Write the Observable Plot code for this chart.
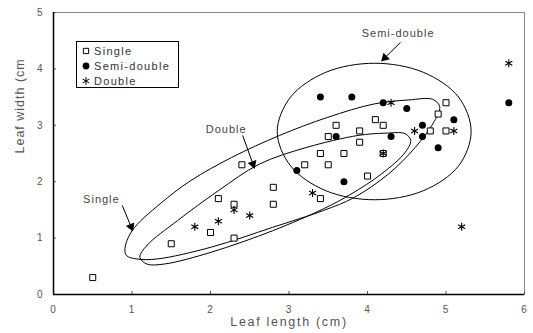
<!DOCTYPE html>
<html>
<head>
<meta charset="utf-8">
<script src="https://cdn.jsdelivr.net/npm/d3@7"></script>
<script src="https://cdn.jsdelivr.net/npm/@observablehq/plot@0.6"></script>
<style>
  html, body { margin: 0; padding: 0; background: #fff; }
  #wrap { position: relative; width: 533px; height: 333px; }
  #wrap svg text { letter-spacing: 1px; }
  #wrap svg .title text, #wrap svg text.title { letter-spacing: 1.7px; }
  .legend { position: absolute; left: 76px; top: 41px; width: 101px; height: 44px;
    border: 1px solid #000; background: #fff; font: 11px Arial, "Liberation Sans", sans-serif;
    color: #333; letter-spacing: 1.3px; padding-top: 1px; box-sizing: content-box; }
  .legend .row { height: 15px; display: flex; align-items: center; padding-left: 4px; }
  .legend svg { width: 10px; height: 10px; margin-right: 3px; overflow: visible; }
</style>
</head>
<body>
<div id="wrap"></div>
<script>
// ---- data ----
const seriesNames = ["Single", "Semi-double", "Double"];
const singleX = [0.5,1.5,2.0,2.1,2.3,2.3,2.4,2.8,2.8,3.2,3.4,3.4,3.5,3.5,3.6,3.7,3.9,3.9,4.0,4.1,4.2,4.2,4.8,4.9,5.0,5.0];
const singleY = [0.3,0.9,1.1,1.7,1.6,1.0,2.3,1.9,1.6,2.3,2.5,1.7,2.8,2.3,3.0,2.5,2.9,2.7,2.1,3.1,3.0,2.5,2.9,3.2,3.4,2.9];
const semiX = [3.4,3.8,4.2,4.5,4.7,4.7,4.9,5.1,5.8,3.1,3.6,3.7,4.3];
const semiY = [3.5,3.5,3.4,3.3,3.0,2.8,2.6,3.1,3.4,2.2,2.8,2.0,2.8];
const doubleX = [1.8,2.1,2.3,2.5,3.3,4.3,4.2,4.6,5.1,5.2,5.8];
const doubleY = [1.2,1.3,1.5,1.4,1.8,3.4,2.5,2.9,2.9,1.2,4.1];

// group outlines
const semiOutlineX = [5.32,5.16,4.71,4.09,3.47,3.02,2.85,3.02,3.47,4.09,4.71,5.16];
const semiOutlineY = [2.89,3.50,3.94,4.10,3.94,3.50,2.89,2.28,1.84,1.68,1.84,2.28];
const singleOutlineX = [0.91,1.00,1.36,1.75,2.27,2.88,3.49,4.09,4.53,4.83,4.92,4.83,4.61,4.27,3.83,3.44,2.79,2.01,1.32,1.06,0.93];
const singleOutlineY = [0.81,1.13,1.61,2.02,2.43,2.82,3.14,3.38,3.45,3.46,3.33,3.02,2.61,2.14,1.72,1.49,1.19,0.84,0.63,0.63,0.69];
const doubleOutlineX = [1.10,1.19,1.58,2.10,2.62,3.23,3.88,4.22,4.48,4.55,4.48,4.18,3.79,3.44,2.79,2.01,1.41,1.19];
const doubleOutlineY = [0.66,0.87,1.31,1.84,2.31,2.61,2.82,2.86,2.85,2.73,2.52,2.14,1.78,1.52,1.13,0.75,0.54,0.54];

// annotations
const annoLabels = ["Semi-double", "Double", "Single"];
const annoLabelX = [4.39, 2.20, 0.61];
const annoLabelY = [4.63, 2.93, 1.69];
const arrowFromX = [4.42, 2.41, 0.875];
const arrowFromY = [4.47, 2.82, 1.58];
const arrowToX = [4.18, 2.56, 1.01];
const arrowToY = [4.14, 2.24, 1.13];

const xTicks = [0,1,2,3,4,5,6];
const yTicks = [0,1,2,3,4,5];

// ---- build tables ----
const zip = (xs, ys) => xs.map((x, i) => ({x, y: ys[i]}));
const single = zip(singleX, singleY);
const semi = zip(semiX, semiY);
const dbl = zip(doubleX, doubleY);
const semiOutline = zip(semiOutlineX, semiOutlineY);
const singleOutline = zip(singleOutlineX, singleOutlineY);
const doubleOutline = zip(doubleOutlineX, doubleOutlineY);
const annos = annoLabels.map((t, i) => ({t, lx: annoLabelX[i], ly: annoLabelY[i],
  fx: arrowFromX[i], fy: arrowFromY[i], tx: arrowToX[i], ty: arrowToY[i]}));

const layout = {
  width: 533, height: 333, marginLeft: 53, marginRight: 9, marginTop: 12, marginBottom: 39,
  x: {domain: [0, 6]}, y: {domain: [0, 5]},
  style: {fontFamily: "Arial, 'Liberation Sans', sans-serif", background: "#fff"}
};

// temp plot to get the scales for arrow heads
const tmp = Plot.plot({...layout, marks: [Plot.frame()]});
const sx = tmp.scale("x"), sy = tmp.scale("y");
const heads = annos.map(a => {
  const x0 = sx.apply(a.fx), y0 = sy.apply(a.fy), x1 = sx.apply(a.tx), y1 = sy.apply(a.ty);
  const dx = x1 - x0, dy = y1 - y0, L = Math.hypot(dx, dy);
  const ux = dx / L, uy = dy / L;
  const cx = x1 - ux * 4.5, cy = y1 - uy * 4.5;
  return {x0: a.fx, y0: a.fy, x: sx.invert(cx), y: sy.invert(cy),
          rot: Math.atan2(ux, -uy) * 180 / Math.PI};
});

const lineOpts = {x: "x", y: "y", curve: "catmull-rom-closed", stroke: "#000", strokeWidth: 1};

const plot = Plot.plot({
  ...layout,
  marks: [
    Plot.frame({stroke: "#888"}),
    Plot.axisX(xTicks, {tickSize: -3, tickPadding: 14, fontSize: 10, color: "#555", label: null, tickFormat: "d"}),
    Plot.axisY(yTicks, {tickSize: -3, tickPadding: 13, fontSize: 10, color: "#555", label: null, tickFormat: "d"}),
    Plot.ruleX([0], {stroke: "#000", strokeWidth: 1.5}),
    Plot.ruleY([0], {stroke: "#000", strokeWidth: 1.5}),
    Plot.text(["Leaf length (cm)"], {frameAnchor: "bottom", dy: 31, fontSize: 12.5, fill: "#555", fontWeight: "normal", className: "title"}),
    Plot.text(["Leaf width (cm"], {frameAnchor: "left", dx: -34, rotate: -90, fontSize: 12.5, fill: "#555", fontWeight: "normal"}),
    Plot.line(semiOutline, lineOpts),
    Plot.line(singleOutline, lineOpts),
    Plot.line(doubleOutline, lineOpts),
    Plot.dot(single, {x: "x", y: "y", symbol: "square", r: 3.4, fill: "#fff", stroke: "#000", strokeWidth: 1}),
    Plot.dot(semi, {x: "x", y: "y", symbol: "circle", r: 3.5, fill: "#000", stroke: "none"}),
    Plot.dot(dbl, {x: "x", y: "y", symbol: "asterisk", r: 3.8, stroke: "#000", strokeWidth: 1.1}),
    Plot.text(annos, {x: "lx", y: "ly", text: "t", fontSize: 11, fill: "#444"}),
    Plot.link(heads, {x1: "x0", y1: "y0", x2: "x", y2: "y", stroke: "#000", strokeWidth: 1}),
    Plot.dot(heads, {x: "x", y: "y", symbol: "triangle", r: 3.4, fill: "#000", stroke: "none", rotate: "rot"})
  ]
});

const wrap = document.getElementById("wrap");
wrap.appendChild(plot);

// legend
const symTypes = [d3.symbolSquare, d3.symbolCircle, d3.symbolAsterisk];
const legend = document.createElement("div");
legend.className = "legend";
seriesNames.forEach((name, i) => {
  const row = document.createElement("div");
  row.className = "row";
  const r = i === 0 ? 3.0 : i === 1 ? 3.4 : 3.6;
  const path = d3.symbol(symTypes[i], r * r * Math.PI)();
  const style = i === 0 ? 'fill="#fff" stroke="#000"' : i === 1 ? 'fill="#000"' : 'fill="none" stroke="#000"';
  row.innerHTML = `<svg viewBox="-5 -5 10 10"><path d="${path}" ${style} stroke-width="1"/></svg><span>${name}</span>`;
  legend.appendChild(row);
});
wrap.appendChild(legend);
</script>
</body>
</html>
